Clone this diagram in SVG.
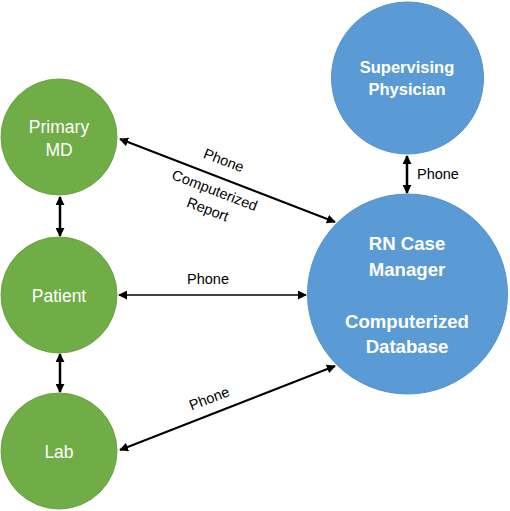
<svg xmlns="http://www.w3.org/2000/svg" width="510" height="511" viewBox="0 0 510 511">
<defs>
<style>
.g{fill:#70AD47;stroke:#6aa343;stroke-width:1}
.b{fill:#5B9BD5;stroke:#5592cb;stroke-width:1}
.nt{font-family:"Liberation Sans",Arial,sans-serif;fill:#ffffff;text-anchor:middle}
.gt{font-size:17.5px}
.bt{font-weight:bold}
.lb{font-family:"Liberation Sans",Arial,sans-serif;font-size:14.5px;fill:#000000}
.c{stroke:#000000;fill:none}
</style>
<marker id="ah" viewBox="0 0 10 10" refX="9" refY="5" markerWidth="9" markerHeight="9" markerUnits="userSpaceOnUse" orient="auto-start-reverse">
<path d="M0,0 L10,5 L0,10 z" fill="#000000"/>
</marker>
</defs>
<rect width="510" height="511" fill="#ffffff"/>
<g id="connectors">
<line class="c" x1="120" y1="139" x2="335" y2="222" stroke-width="2" marker-start="url(#ah)" marker-end="url(#ah)"/>
<line class="c" x1="119" y1="295" x2="306" y2="295" stroke-width="1.5" marker-start="url(#ah)" marker-end="url(#ah)"/>
<line class="c" x1="120" y1="450" x2="335" y2="366" stroke-width="2" marker-start="url(#ah)" marker-end="url(#ah)"/>
<line class="c" x1="60" y1="197" x2="60" y2="236" stroke-width="2.5" marker-start="url(#ah)" marker-end="url(#ah)"/>
<line class="c" x1="60" y1="354" x2="60" y2="392" stroke-width="2.5" marker-start="url(#ah)" marker-end="url(#ah)"/>
<line class="c" x1="407" y1="156" x2="407" y2="193" stroke-width="2.5" marker-start="url(#ah)" marker-end="url(#ah)"/>
<text class="lb" x="417" y="179">Phone</text>
<text class="lb" x="208" y="284" text-anchor="middle">Phone</text>
<text class="lb" text-anchor="middle" transform="translate(222,165) rotate(21)">Phone</text>
<text class="lb" text-anchor="middle" transform="translate(213,195) rotate(21)">Computerized</text>
<text class="lb" text-anchor="middle" transform="translate(206,214) rotate(21)">Report</text>
<text class="lb" text-anchor="middle" transform="translate(211,403) rotate(-21)">Phone</text>
</g>
<g id="primary-md">
<circle class="g" cx="59" cy="137" r="58"/>
<text class="nt gt" x="59" y="133">Primary</text>
<text class="nt gt" x="59" y="156">MD</text>
</g>
<g id="patient">
<circle class="g" cx="59" cy="295" r="58"/>
<text class="nt gt" x="59" y="302">Patient</text>
</g>
<g id="lab">
<circle class="g" cx="59" cy="451" r="58"/>
<text class="nt gt" x="59" y="458">Lab</text>
</g>
<g id="supervising-physician">
<circle class="b" cx="407.5" cy="78" r="76"/>
<text class="nt bt" x="407" y="73" font-size="16.5">Supervising</text>
<text class="nt bt" x="407" y="95" font-size="16.5">Physician</text>
</g>
<g id="rn-case-manager">
<circle class="b" cx="407.5" cy="294" r="100"/>
<text class="nt bt" x="407" y="250" font-size="18.6">RN Case</text>
<text class="nt bt" x="407" y="276" font-size="18.6">Manager</text>
<text class="nt bt" x="407" y="328" font-size="18.6">Computerized</text>
<text class="nt bt" x="407" y="353" font-size="18.6">Database</text>
</g>
</svg>
